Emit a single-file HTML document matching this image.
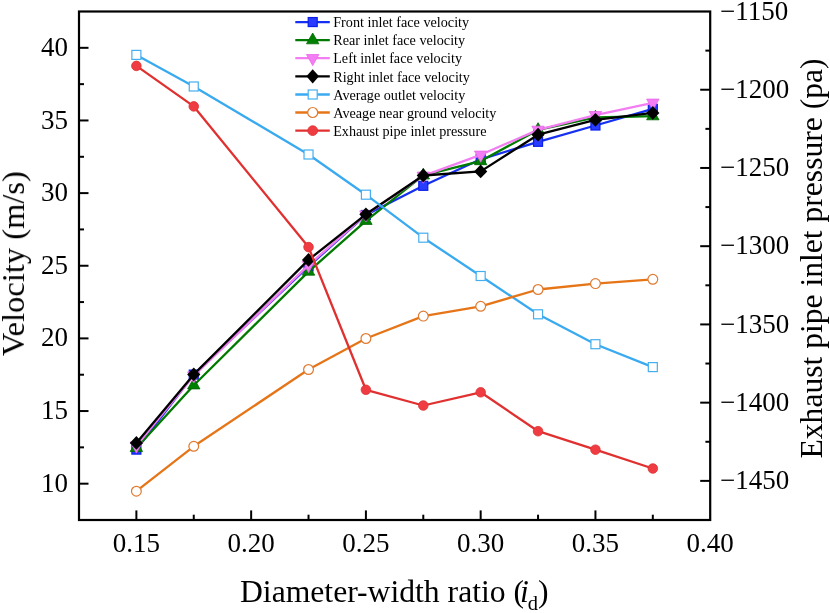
<!DOCTYPE html>
<html><head><meta charset="utf-8"><style>
html,body{margin:0;padding:0;background:#fff;}
svg{display:block;}
text{font-family:"Liberation Serif",serif;fill:#000;}
</style></head><body>
<svg width="830" height="613" viewBox="0 0 830 613">
<defs><filter id="gs" x="0" y="0" width="830" height="613" filterUnits="userSpaceOnUse"><feColorMatrix type="saturate" values="0"/></filter></defs>
<rect width="830" height="613" fill="#fff"/>
<polyline points="136.4,449.6 193.8,374.6 308.5,266.5 365.9,215.0 423.3,185.8 480.7,159.3 538.1,141.8 595.4,125.5 652.8,108.8" fill="none" stroke="#1530f0" stroke-width="2.3" stroke-linejoin="round"/>
<rect x="131.88" y="445.10" width="9.0" height="9.0" fill="#2a3cff" stroke="#0a1ee8" stroke-width="1.2"/>
<rect x="189.26" y="370.10" width="9.0" height="9.0" fill="#2a3cff" stroke="#0a1ee8" stroke-width="1.2"/>
<rect x="304.03" y="262.00" width="9.0" height="9.0" fill="#2a3cff" stroke="#0a1ee8" stroke-width="1.2"/>
<rect x="361.41" y="210.50" width="9.0" height="9.0" fill="#2a3cff" stroke="#0a1ee8" stroke-width="1.2"/>
<rect x="418.79" y="181.30" width="9.0" height="9.0" fill="#2a3cff" stroke="#0a1ee8" stroke-width="1.2"/>
<rect x="476.17" y="154.80" width="9.0" height="9.0" fill="#2a3cff" stroke="#0a1ee8" stroke-width="1.2"/>
<rect x="533.55" y="137.30" width="9.0" height="9.0" fill="#2a3cff" stroke="#0a1ee8" stroke-width="1.2"/>
<rect x="590.94" y="121.00" width="9.0" height="9.0" fill="#2a3cff" stroke="#0a1ee8" stroke-width="1.2"/>
<rect x="648.32" y="104.30" width="9.0" height="9.0" fill="#2a3cff" stroke="#0a1ee8" stroke-width="1.2"/>
<polyline points="136.4,448.0 193.8,385.3 308.5,271.6 365.9,220.8 423.3,175.4 480.7,161.1 538.1,129.9 595.4,117.5 652.8,116.2" fill="none" stroke="#007a00" stroke-width="2.3" stroke-linejoin="round"/>
<polygon points="136.38,440.80 130.18,451.60 142.58,451.60" fill="#008000" stroke="#006400" stroke-width="0.8" stroke-linejoin="round"/>
<polygon points="193.76,378.10 187.56,388.90 199.96,388.90" fill="#008000" stroke="#006400" stroke-width="0.8" stroke-linejoin="round"/>
<polygon points="308.53,264.40 302.33,275.20 314.73,275.20" fill="#008000" stroke="#006400" stroke-width="0.8" stroke-linejoin="round"/>
<polygon points="365.91,213.60 359.71,224.40 372.11,224.40" fill="#008000" stroke="#006400" stroke-width="0.8" stroke-linejoin="round"/>
<polygon points="423.29,168.20 417.09,179.00 429.49,179.00" fill="#008000" stroke="#006400" stroke-width="0.8" stroke-linejoin="round"/>
<polygon points="480.67,153.90 474.47,164.70 486.87,164.70" fill="#008000" stroke="#006400" stroke-width="0.8" stroke-linejoin="round"/>
<polygon points="538.05,122.70 531.85,133.50 544.25,133.50" fill="#008000" stroke="#006400" stroke-width="0.8" stroke-linejoin="round"/>
<polygon points="595.44,110.30 589.24,121.10 601.64,121.10" fill="#008000" stroke="#006400" stroke-width="0.8" stroke-linejoin="round"/>
<polygon points="652.82,109.00 646.62,119.80 659.02,119.80" fill="#008000" stroke="#006400" stroke-width="0.8" stroke-linejoin="round"/>
<polyline points="136.4,445.7 193.8,375.6 308.5,265.2 365.9,214.6 423.3,175.8 480.7,154.8 538.1,129.9 595.4,115.2 652.8,102.8" fill="none" stroke="#f27ef2" stroke-width="2.3" stroke-linejoin="round"/>
<polygon points="136.38,453.10 130.18,442.00 142.58,442.00" fill="#f47cf4" stroke="#e868e8" stroke-width="0.8" stroke-linejoin="round"/>
<polygon points="193.76,383.00 187.56,371.90 199.96,371.90" fill="#f47cf4" stroke="#e868e8" stroke-width="0.8" stroke-linejoin="round"/>
<polygon points="308.53,272.60 302.33,261.50 314.73,261.50" fill="#f47cf4" stroke="#e868e8" stroke-width="0.8" stroke-linejoin="round"/>
<polygon points="365.91,222.00 359.71,210.90 372.11,210.90" fill="#f47cf4" stroke="#e868e8" stroke-width="0.8" stroke-linejoin="round"/>
<polygon points="423.29,183.20 417.09,172.10 429.49,172.10" fill="#f47cf4" stroke="#e868e8" stroke-width="0.8" stroke-linejoin="round"/>
<polygon points="480.67,162.20 474.47,151.10 486.87,151.10" fill="#f47cf4" stroke="#e868e8" stroke-width="0.8" stroke-linejoin="round"/>
<polygon points="538.05,137.30 531.85,126.20 544.25,126.20" fill="#f47cf4" stroke="#e868e8" stroke-width="0.8" stroke-linejoin="round"/>
<polygon points="595.44,122.60 589.24,111.50 601.64,111.50" fill="#f47cf4" stroke="#e868e8" stroke-width="0.8" stroke-linejoin="round"/>
<polygon points="652.82,110.20 646.62,99.10 659.02,99.10" fill="#f47cf4" stroke="#e868e8" stroke-width="0.8" stroke-linejoin="round"/>
<polyline points="136.4,442.9 193.8,374.4 308.5,259.9 365.9,214.3 423.3,175.5 480.7,171.4 538.1,134.7 595.4,119.8 652.8,112.9" fill="none" stroke="#000000" stroke-width="2.3" stroke-linejoin="round"/>
<polygon points="136.38,436.00 142.98,442.90 136.38,449.80 129.78,442.90" fill="#000000"/>
<polygon points="193.76,367.50 200.36,374.40 193.76,381.30 187.16,374.40" fill="#000000"/>
<polygon points="308.53,253.00 315.13,259.90 308.53,266.80 301.93,259.90" fill="#000000"/>
<polygon points="365.91,207.40 372.51,214.30 365.91,221.20 359.31,214.30" fill="#000000"/>
<polygon points="423.29,168.60 429.89,175.50 423.29,182.40 416.69,175.50" fill="#000000"/>
<polygon points="480.67,164.50 487.27,171.40 480.67,178.30 474.07,171.40" fill="#000000"/>
<polygon points="538.05,127.80 544.65,134.70 538.05,141.60 531.45,134.70" fill="#000000"/>
<polygon points="595.44,112.95 602.04,119.85 595.44,126.75 588.84,119.85" fill="#000000"/>
<polygon points="652.82,106.00 659.42,112.90 652.82,119.80 646.22,112.90" fill="#000000"/>
<polyline points="136.4,54.9 193.8,86.5 308.5,154.5 365.9,194.7 423.3,237.7 480.7,276.0 538.1,314.3 595.4,344.2 652.8,367.1" fill="none" stroke="#3aaaf0" stroke-width="2.3" stroke-linejoin="round"/>
<rect x="131.88" y="50.40" width="9.0" height="9.0" fill="#fff" stroke="#45aeee" stroke-width="1.2"/>
<rect x="189.26" y="82.00" width="9.0" height="9.0" fill="#fff" stroke="#45aeee" stroke-width="1.2"/>
<rect x="304.03" y="150.00" width="9.0" height="9.0" fill="#fff" stroke="#45aeee" stroke-width="1.2"/>
<rect x="361.41" y="190.20" width="9.0" height="9.0" fill="#fff" stroke="#45aeee" stroke-width="1.2"/>
<rect x="418.79" y="233.20" width="9.0" height="9.0" fill="#fff" stroke="#45aeee" stroke-width="1.2"/>
<rect x="476.17" y="271.50" width="9.0" height="9.0" fill="#fff" stroke="#45aeee" stroke-width="1.2"/>
<rect x="533.55" y="309.80" width="9.0" height="9.0" fill="#fff" stroke="#45aeee" stroke-width="1.2"/>
<rect x="590.94" y="339.70" width="9.0" height="9.0" fill="#fff" stroke="#45aeee" stroke-width="1.2"/>
<rect x="648.32" y="362.60" width="9.0" height="9.0" fill="#fff" stroke="#45aeee" stroke-width="1.2"/>
<polyline points="136.4,491.2 193.8,446.3 308.5,369.5 365.9,338.5 423.3,316.1 480.7,306.3 538.1,289.5 595.4,283.6 652.8,279.3" fill="none" stroke="#e67518" stroke-width="2.3" stroke-linejoin="round"/>
<circle cx="136.38" cy="491.20" r="4.9" fill="#fff" stroke="#e07a30" stroke-width="1.2"/>
<circle cx="193.76" cy="446.30" r="4.9" fill="#fff" stroke="#e07a30" stroke-width="1.2"/>
<circle cx="308.53" cy="369.50" r="4.9" fill="#fff" stroke="#e07a30" stroke-width="1.2"/>
<circle cx="365.91" cy="338.50" r="4.9" fill="#fff" stroke="#e07a30" stroke-width="1.2"/>
<circle cx="423.29" cy="316.10" r="4.9" fill="#fff" stroke="#e07a30" stroke-width="1.2"/>
<circle cx="480.67" cy="306.30" r="4.9" fill="#fff" stroke="#e07a30" stroke-width="1.2"/>
<circle cx="538.05" cy="289.50" r="4.9" fill="#fff" stroke="#e07a30" stroke-width="1.2"/>
<circle cx="595.44" cy="283.60" r="4.9" fill="#fff" stroke="#e07a30" stroke-width="1.2"/>
<circle cx="652.82" cy="279.30" r="4.9" fill="#fff" stroke="#e07a30" stroke-width="1.2"/>
<polyline points="136.4,65.9 193.8,106.4 308.5,247.1 365.9,389.8 423.3,405.5 480.7,392.3 538.1,431.2 595.4,449.7 652.8,468.5" fill="none" stroke="#e0302f" stroke-width="2.3" stroke-linejoin="round"/>
<circle cx="136.38" cy="65.90" r="4.8" fill="#ee3c42" stroke="#e03030" stroke-width="0.8"/>
<circle cx="193.76" cy="106.40" r="4.8" fill="#ee3c42" stroke="#e03030" stroke-width="0.8"/>
<circle cx="308.53" cy="247.10" r="4.8" fill="#ee3c42" stroke="#e03030" stroke-width="0.8"/>
<circle cx="365.91" cy="389.80" r="4.8" fill="#ee3c42" stroke="#e03030" stroke-width="0.8"/>
<circle cx="423.29" cy="405.50" r="4.8" fill="#ee3c42" stroke="#e03030" stroke-width="0.8"/>
<circle cx="480.67" cy="392.30" r="4.8" fill="#ee3c42" stroke="#e03030" stroke-width="0.8"/>
<circle cx="538.05" cy="431.20" r="4.8" fill="#ee3c42" stroke="#e03030" stroke-width="0.8"/>
<circle cx="595.44" cy="449.70" r="4.8" fill="#ee3c42" stroke="#e03030" stroke-width="0.8"/>
<circle cx="652.82" cy="468.50" r="4.8" fill="#ee3c42" stroke="#e03030" stroke-width="0.8"/>
<line x1="295.3" y1="22.05" x2="329.8" y2="22.05" stroke="#1530f0" stroke-width="2.3"/>
<rect x="308.20" y="17.55" width="9.0" height="9.0" fill="#2a3cff" stroke="#0a1ee8" stroke-width="1.2"/>
<line x1="295.3" y1="40.2" x2="329.8" y2="40.2" stroke="#007a00" stroke-width="2.3"/>
<polygon points="312.70,33.00 306.50,43.80 318.90,43.80" fill="#008000" stroke="#006400" stroke-width="0.8" stroke-linejoin="round"/>
<line x1="295.3" y1="58.2" x2="329.8" y2="58.2" stroke="#f27ef2" stroke-width="2.3"/>
<polygon points="312.70,65.60 306.50,54.50 318.90,54.50" fill="#f47cf4" stroke="#e868e8" stroke-width="0.8" stroke-linejoin="round"/>
<line x1="295.3" y1="76.3" x2="329.8" y2="76.3" stroke="#000000" stroke-width="2.3"/>
<polygon points="312.70,69.20 319.00,76.30 312.70,83.40 306.40,76.30" fill="#000000"/>
<line x1="295.3" y1="94.5" x2="329.8" y2="94.5" stroke="#3aaaf0" stroke-width="2.3"/>
<rect x="308.20" y="90.00" width="9.0" height="9.0" fill="#fff" stroke="#45aeee" stroke-width="1.2"/>
<line x1="295.3" y1="112.5" x2="329.8" y2="112.5" stroke="#e67518" stroke-width="2.3"/>
<circle cx="312.70" cy="112.50" r="5.0" fill="#fff" stroke="#e07a30" stroke-width="1.2"/>
<line x1="295.3" y1="130.65" x2="329.8" y2="130.65" stroke="#e0302f" stroke-width="2.3"/>
<circle cx="312.70" cy="130.65" r="4.9" fill="#ee3c42" stroke="#e03030" stroke-width="0.8"/>
<rect x="79.0" y="11.5" width="631.20" height="508.50" fill="none" stroke="#000" stroke-width="2.2"/>
<line x1="79.0" y1="483.68" x2="88.5" y2="483.68" stroke="#000" stroke-width="2.0"/>
<line x1="79.0" y1="411.04" x2="88.5" y2="411.04" stroke="#000" stroke-width="2.0"/>
<line x1="79.0" y1="338.39" x2="88.5" y2="338.39" stroke="#000" stroke-width="2.0"/>
<line x1="79.0" y1="265.75" x2="88.5" y2="265.75" stroke="#000" stroke-width="2.0"/>
<line x1="79.0" y1="193.11" x2="88.5" y2="193.11" stroke="#000" stroke-width="2.0"/>
<line x1="79.0" y1="120.46" x2="88.5" y2="120.46" stroke="#000" stroke-width="2.0"/>
<line x1="79.0" y1="47.82" x2="88.5" y2="47.82" stroke="#000" stroke-width="2.0"/>
<line x1="79.0" y1="447.36" x2="84.0" y2="447.36" stroke="#000" stroke-width="2.0"/>
<line x1="79.0" y1="374.71" x2="84.0" y2="374.71" stroke="#000" stroke-width="2.0"/>
<line x1="79.0" y1="302.07" x2="84.0" y2="302.07" stroke="#000" stroke-width="2.0"/>
<line x1="79.0" y1="229.43" x2="84.0" y2="229.43" stroke="#000" stroke-width="2.0"/>
<line x1="79.0" y1="156.79" x2="84.0" y2="156.79" stroke="#000" stroke-width="2.0"/>
<line x1="79.0" y1="84.14" x2="84.0" y2="84.14" stroke="#000" stroke-width="2.0"/>
<line x1="136.38" y1="520.0" x2="136.38" y2="510.4" stroke="#000" stroke-width="2.0"/>
<line x1="251.15" y1="520.0" x2="251.15" y2="510.4" stroke="#000" stroke-width="2.0"/>
<line x1="365.91" y1="520.0" x2="365.91" y2="510.4" stroke="#000" stroke-width="2.0"/>
<line x1="480.67" y1="520.0" x2="480.67" y2="510.4" stroke="#000" stroke-width="2.0"/>
<line x1="595.44" y1="520.0" x2="595.44" y2="510.4" stroke="#000" stroke-width="2.0"/>
<line x1="193.76" y1="520.0" x2="193.76" y2="514.7" stroke="#000" stroke-width="2.0"/>
<line x1="308.53" y1="520.0" x2="308.53" y2="514.7" stroke="#000" stroke-width="2.0"/>
<line x1="423.29" y1="520.0" x2="423.29" y2="514.7" stroke="#000" stroke-width="2.0"/>
<line x1="538.05" y1="520.0" x2="538.05" y2="514.7" stroke="#000" stroke-width="2.0"/>
<line x1="652.82" y1="520.0" x2="652.82" y2="514.7" stroke="#000" stroke-width="2.0"/>
<line x1="710.2" y1="480.88" x2="700.2" y2="480.88" stroke="#000" stroke-width="2.0"/>
<line x1="710.2" y1="402.65" x2="700.2" y2="402.65" stroke="#000" stroke-width="2.0"/>
<line x1="710.2" y1="324.42" x2="700.2" y2="324.42" stroke="#000" stroke-width="2.0"/>
<line x1="710.2" y1="246.19" x2="700.2" y2="246.19" stroke="#000" stroke-width="2.0"/>
<line x1="710.2" y1="167.96" x2="700.2" y2="167.96" stroke="#000" stroke-width="2.0"/>
<line x1="710.2" y1="89.73" x2="700.2" y2="89.73" stroke="#000" stroke-width="2.0"/>
<line x1="710.2" y1="441.77" x2="705.4000000000001" y2="441.77" stroke="#000" stroke-width="2.0"/>
<line x1="710.2" y1="363.54" x2="705.4000000000001" y2="363.54" stroke="#000" stroke-width="2.0"/>
<line x1="710.2" y1="285.31" x2="705.4000000000001" y2="285.31" stroke="#000" stroke-width="2.0"/>
<line x1="710.2" y1="207.08" x2="705.4000000000001" y2="207.08" stroke="#000" stroke-width="2.0"/>
<line x1="710.2" y1="128.85" x2="705.4000000000001" y2="128.85" stroke="#000" stroke-width="2.0"/>
<line x1="710.2" y1="50.62" x2="705.4000000000001" y2="50.62" stroke="#000" stroke-width="2.0"/>
<g filter="url(#gs)">
<text x="333.2" y="27.25" font-size="14.2">Front inlet face velocity</text>
<text x="333.2" y="45.40" font-size="14.2">Rear inlet face velocity</text>
<text x="333.2" y="63.40" font-size="14.2">Left inlet face velocity</text>
<text x="333.2" y="81.50" font-size="14.2">Right inlet face velocity</text>
<text x="333.2" y="99.70" font-size="14.2">Average outlet velocity</text>
<text x="333.2" y="117.70" font-size="14.2">Aveage near ground velocity</text>
<text x="333.2" y="135.85" font-size="14.2">Exhaust pipe inlet pressure</text>
<text x="67.9" y="491.78" font-size="27" text-anchor="end">10</text>
<text x="67.9" y="419.14" font-size="27" text-anchor="end">15</text>
<text x="67.9" y="346.49" font-size="27" text-anchor="end">20</text>
<text x="67.9" y="273.85" font-size="27" text-anchor="end">25</text>
<text x="67.9" y="201.21" font-size="27" text-anchor="end">30</text>
<text x="67.9" y="128.56" font-size="27" text-anchor="end">35</text>
<text x="67.9" y="55.92" font-size="27" text-anchor="end">40</text>
<text x="136.38" y="551.8" font-size="27" text-anchor="middle">0.15</text>
<text x="251.15" y="551.8" font-size="27" text-anchor="middle">0.20</text>
<text x="365.91" y="551.8" font-size="27" text-anchor="middle">0.25</text>
<text x="480.67" y="551.8" font-size="27" text-anchor="middle">0.30</text>
<text x="595.44" y="551.8" font-size="27" text-anchor="middle">0.35</text>
<text x="710.20" y="551.8" font-size="27" text-anchor="middle">0.40</text>
<text x="720" y="488.98" font-size="27">&#8722;1450</text>
<text x="720" y="410.75" font-size="27">&#8722;1400</text>
<text x="720" y="332.52" font-size="27">&#8722;1350</text>
<text x="720" y="254.29" font-size="27">&#8722;1300</text>
<text x="720" y="176.06" font-size="27">&#8722;1250</text>
<text x="720" y="97.83" font-size="27">&#8722;1200</text>
<text x="720" y="19.60" font-size="27">&#8722;1150</text>

<text transform="translate(24,356.2) rotate(-90)" font-size="32.5">Velocity (m/s)</text>
<text transform="translate(822,458.5) rotate(-90)" font-size="31.6">Exhaust pipe inlet pressure (pa)</text>
<text x="240" y="601.8" font-size="31.65">Diameter-width ratio (<tspan font-style="italic" dx="-4">i</tspan><tspan font-size="20.5" dx="-1" dy="8">d</tspan><tspan dy="-8">)</tspan></text>

</g>
</svg>
</body></html>
